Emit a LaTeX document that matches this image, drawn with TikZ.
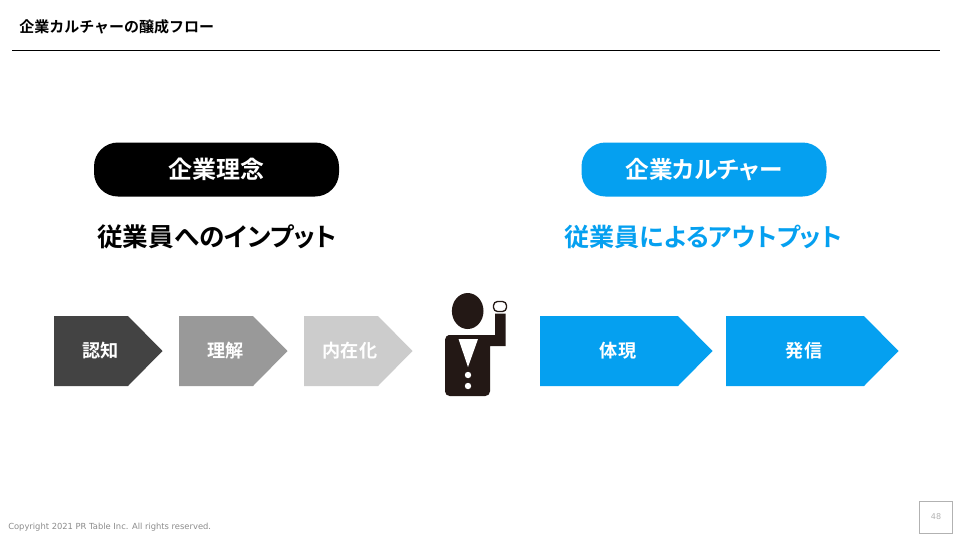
\documentclass[tikz,border=0pt]{standalone}
\usepackage{fontspec}
\setmainfont{Liberation Sans}
\newfontfamily\cjk[RawFeature=+palt]{Noto Sans CJK JP Bold}
\newfontfamily\cjkfull{Noto Sans CJK JP Bold}
\newfontfamily\foot{DejaVu Sans}
\definecolor{cblue}{HTML}{05A0F0}
\definecolor{cdark}{HTML}{434343}
\definecolor{cmid}{HTML}{999999}
\definecolor{clight}{HTML}{CCCCCC}
\definecolor{figk}{HTML}{231815}
\tikzset{
  pill/.style={rounded corners=18pt,minimum width=183.75pt,minimum height=40.5pt,inner sep=0pt,text=white,font=\cjk\fontsize{18}{20}\selectfont},
  headline/.style={inner sep=0pt,font=\cjk\fontsize{19.2}{22}\selectfont},
  steplabel/.style={inner sep=0pt,text=white,font=\cjkfull\fontsize{13.6}{15}\selectfont},
}
\begin{document}
\begin{tikzpicture}[x=0.75pt,y=-0.75pt]
\useasboundingbox (0,0) rectangle (960,540);
\fill[white] (0,0) rectangle (960,540);
\node[anchor=west,inner sep=0pt,font=\cjkfull\fontsize{11.25}{14}\selectfont] (title) at (19,26.5) {企業カルチャーの醸成フロー};
\coordinate (ruleL) at (12,50.5);
\coordinate (ruleR) at (940,50.5);
\draw[line width=0.8pt] (ruleL) -- (ruleR);
\node[pill,fill=black] (p1) at (216.5,169.5) {企業理念};
\node[pill,fill=cblue,font=\cjk\fontsize{17.7}{20}\selectfont] (p2) at (704,169.5) {企業カルチャー};
\node[headline] (h1) at (217,237) {従業員へのインプット};
\node[headline,text=cblue,font=\cjk\fontsize{18.8}{22}\selectfont] (h2) at (703.5,237) {従業員によるアウトプット};
\fill[cdark] (54,316) -- (128,316) -- (162.5,351) -- (128,386) -- (54,386) -- cycle;
\fill[cmid] (179,316) -- (253,316) -- (287.5,351) -- (253,386) -- (179,386) -- cycle;
\fill[clight] (304,316) -- (378,316) -- (412.5,351) -- (378,386) -- (304,386) -- cycle;
\fill[cblue] (540,316) -- (678,316) -- (712.5,351) -- (678,386) -- (540,386) -- cycle;
\fill[cblue] (726,316) -- (864,316) -- (898.5,351) -- (864,386) -- (726,386) -- cycle;
\node[steplabel] (s1) at (100.5,351) {認知};
\node[steplabel] (s2) at (225.5,351) {理解};
\node[steplabel] (s3) at (350,351) {内在化};
\node[steplabel] (s4) at (618,351) {体現};
\node[steplabel] (s5) at (804,351) {発信};
% figure
\fill[figk] (467.7,311) ellipse [x radius=15.8,y radius=18];
\fill[figk,rounded corners=3.5pt] (445,335) [sharp corners] -- (495,335) -- (495,313.5) -- (505.5,313.5) -- (505.5,346) -- (490,346) [rounded corners=3.5pt] -- (490,396) -- (445,396) -- (445,335) -- (460,335) -- cycle;
\draw[figk,line width=1pt,rounded corners=3pt] (493.5,301.5) rectangle (506.5,311.5);
\fill[white] (458.5,339) -- (478,339) -- (468,367) -- cycle;
\fill[white] (468,375) circle (3.2);
\fill[white] (468,386) circle (3.2);
% footer
\node[anchor=west,inner sep=0pt,text=black!45,font=\foot\fontsize{6.27}{8}\selectfont] (copy) at (8,527) {Copyright 2021 PR Table Inc. All rights reserved.};
\node[draw=black!30,line width=0.6pt,minimum width=24.75pt,minimum height=24pt,inner sep=0pt,text=black!30,font=\foot\fontsize{6}{8}\selectfont] (pg) at (936,517) {48};
\end{tikzpicture}
\end{document}
